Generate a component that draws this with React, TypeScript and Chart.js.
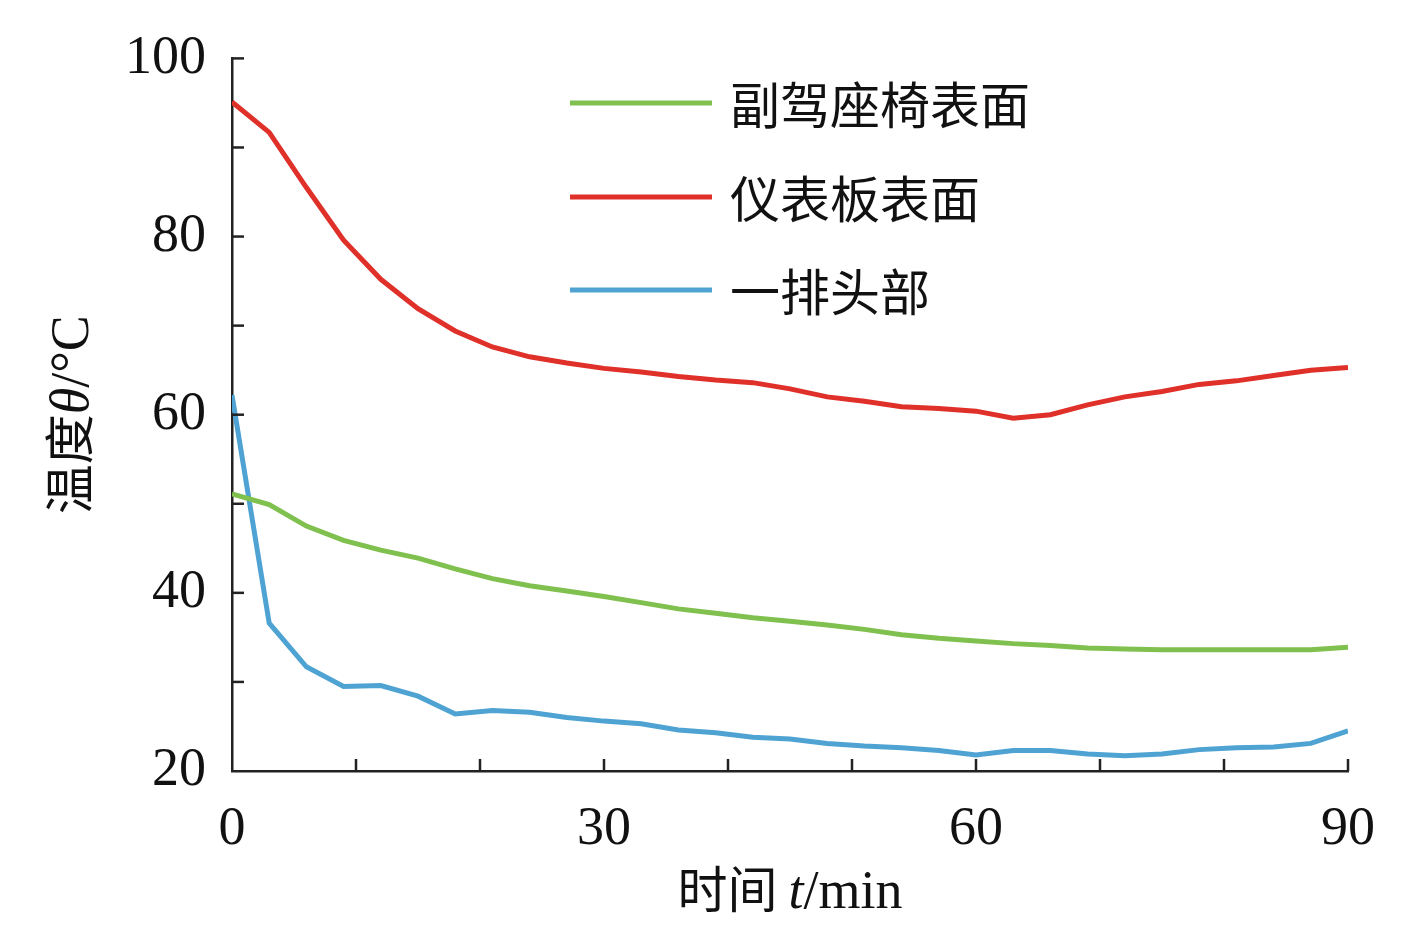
import React, { useEffect, useRef } from "react";
import { Chart, registerables } from "chart.js";
Chart.register(...registerables);

const times = [0,3,6,9,12,15,18,21,24,27,30,33,36,39,42,45,48,51,54,57,60,63,66,69,72,75,78,81,84,87,90];
const seat = [51.1,49.9,47.5,45.9,44.8,43.9,42.7,41.6,40.8,40.2,39.6,38.9,38.2,37.7,37.2,36.8,36.4,35.9,35.3,34.9,34.6,34.3,34.1,33.8,33.7,33.6,33.6,33.6,33.6,33.6,33.9];
const dash = [95.1,91.7,85.5,79.6,75.2,71.9,69.4,67.6,66.5,65.8,65.2,64.8,64.3,63.9,63.6,62.9,62.0,61.5,60.9,60.7,60.4,59.6,60.0,61.1,62.0,62.6,63.4,63.8,64.4,65.0,65.3];
const head = [62.2,36.6,31.7,29.5,29.6,28.4,26.4,26.8,26.6,26.0,25.6,25.3,24.6,24.3,23.8,23.6,23.1,22.8,22.6,22.3,21.8,22.3,22.3,21.9,21.7,21.9,22.4,22.6,22.7,23.1,24.5];
const names = ["副驾座椅表面", "仪表板表面", "一排头部"];
const colors = ["#80c04f", "#e0302a", "#4ea3d3"];

const serif = '"Liberation Serif", "Noto Sans CJK SC", serif';

const decor = {
  id: "decor",
  afterDraw(chart: any) {
    const { ctx, chartArea: a, scales } = chart;
    const x = scales.x, y = scales.y;
    ctx.save();
    ctx.strokeStyle = "#222";
    ctx.lineWidth = 2.5;
    for (let v = 10; v <= 90; v += 10) {
      const px = x.getPixelForValue(v);
      ctx.beginPath(); ctx.moveTo(px, a.bottom); ctx.lineTo(px, a.bottom - 12); ctx.stroke();
    }
    for (let v = 30; v <= 100; v += 10) {
      const py = y.getPixelForValue(v);
      ctx.beginPath(); ctx.moveTo(a.left, py); ctx.lineTo(a.left + 12, py); ctx.stroke();
    }
    ctx.font = `50px "Noto Sans CJK SC", sans-serif`;
    ctx.textBaseline = "middle";
    const ly = [95, 189, 282];
    names.forEach((n, i) => {
      ctx.strokeStyle = colors[i]; ctx.lineWidth = 5;
      ctx.beginPath(); ctx.moveTo(562, ly[i]); ctx.lineTo(704, ly[i]); ctx.stroke();
      ctx.fillStyle = "#111"; ctx.fillText(n, 722, ly[i] + 2);
    });
    ctx.fillStyle = "#111";
    ctx.textBaseline = "alphabetic";
    const parts: [string, string][] = [["时间 ", `50px "Noto Sans CJK SC", sans-serif`], ["t", `italic 54px "Liberation Serif", serif`], ["/min", `54px "Liberation Serif", serif`]];
    let w = 0; parts.forEach(p => { ctx.font = p[1]; w += ctx.measureText(p[0]).width; });
    let sx = (a.left + a.right) / 2 - w / 2;
    parts.forEach(p => { ctx.font = p[1]; ctx.fillText(p[0], sx, 900); sx += ctx.measureText(p[0]).width; });
    ctx.translate(80, (a.top + a.bottom) / 2);
    ctx.rotate(-Math.PI / 2);
    const yp: [string, string][] = [["温度", `50px "Noto Sans CJK SC", sans-serif`], ["θ", `italic 54px "Liberation Serif", serif`], ["/°C", `54px "Liberation Serif", serif`]];
    w = 0; yp.forEach(p => { ctx.font = p[1]; w += ctx.measureText(p[0]).width; });
    sx = -w / 2;
    yp.forEach(p => { ctx.font = p[1]; ctx.fillText(p[0], sx, 0); sx += ctx.measureText(p[0]).width; });
    ctx.restore();
  },
};

export default function App() {
  const ref = useRef<HTMLCanvasElement>(null);
  useEffect(() => {
    const mk = (d: number[]) => times.map((t, i) => ({ x: t, y: d[i] }));
    const chart = new Chart(ref.current!, {
      type: "line",
      data: {
        datasets: [seat, dash, head].map((d, i) => ({
          label: names[i], data: mk(d), borderColor: colors[i], borderWidth: 5,
          pointRadius: 0, tension: 0, fill: false,
        })),
      },
      options: {
        animation: false, responsive: false,
        layout: { padding: { top: 0, right: 57, left: 0, bottom: 0 } },
        plugins: { legend: { display: false }, tooltip: { enabled: false } },
        scales: {
          x: {
            type: "linear", min: 0, max: 90,
            grid: { display: false }, border: { display: true, color: "#222", width: 2.5 },
            afterFit: (s: any) => { s.height = 151; },
            ticks: { stepSize: 10, padding: 18, color: "#111", font: { family: serif, size: 54 }, maxRotation: 0, autoSkip: false,
              callback: (v: any) => (v % 30 === 0 ? String(v) : "") },
          },
          y: {
            min: 20, max: 100,
            grid: { display: false }, border: { display: true, color: "#222", width: 2.5 },
            afterFit: (s: any) => { s.width = 224; },
            ticks: { stepSize: 10, padding: 18, color: "#111", font: { family: serif, size: 54 }, autoSkip: false,
              callback: (v: any) => (v % 20 === 0 ? String(v) : "") },
          },
        },
      },
      plugins: [decor],
    });
    return () => chart.destroy();
  }, []);
  return <canvas ref={ref} width={1397} height={914} style={{ display: "block" }} />;
}
